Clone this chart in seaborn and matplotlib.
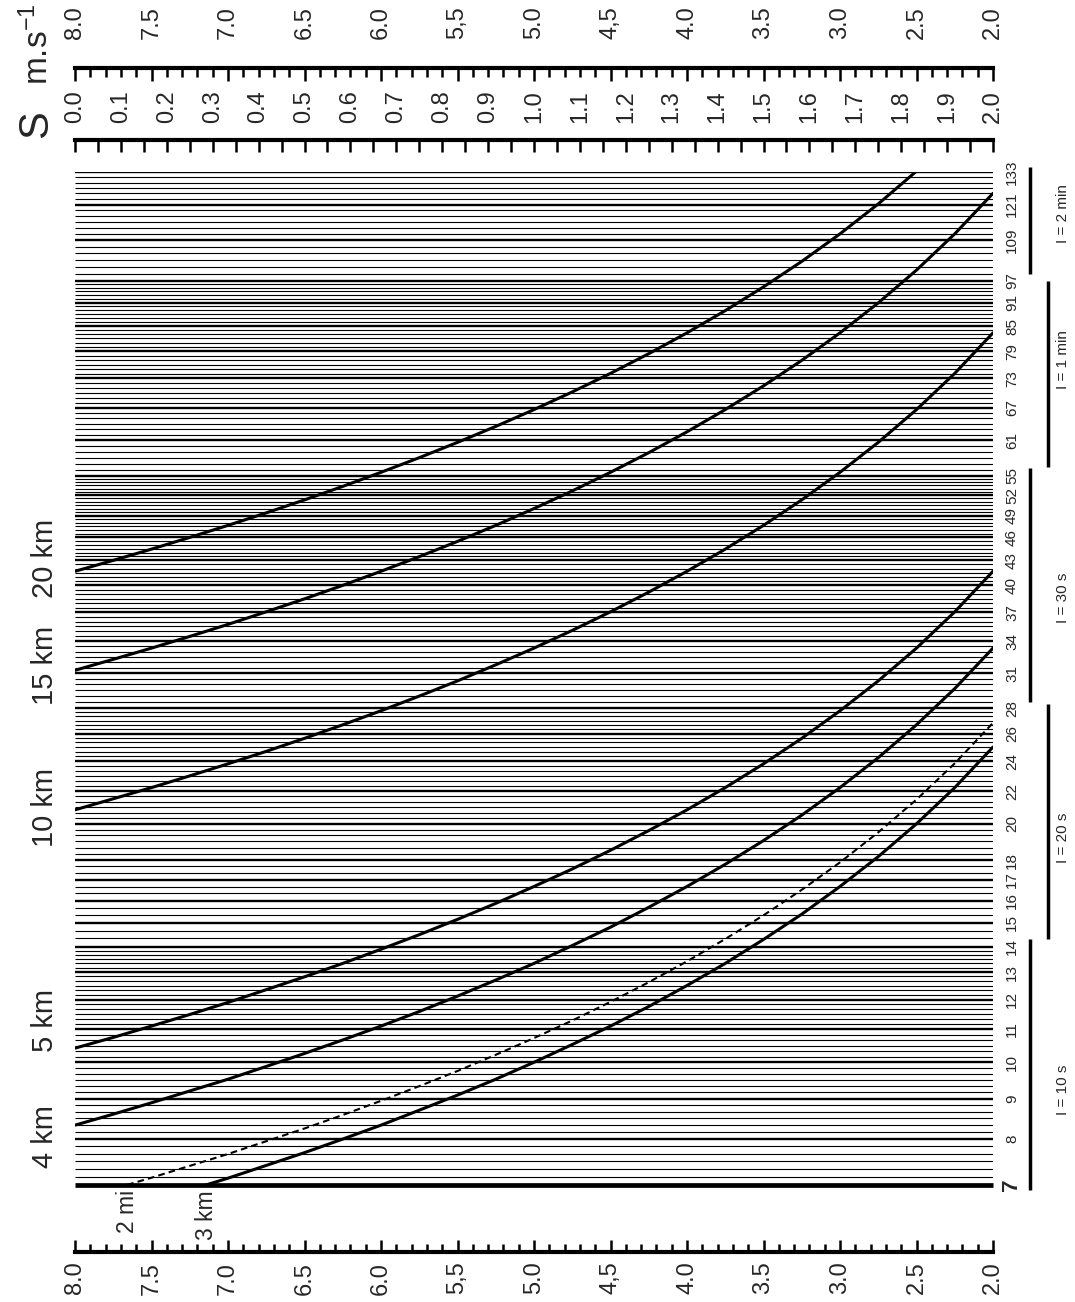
import numpy as np
import pandas as pd
import matplotlib.pyplot as plt
import seaborn as sns

# --- data ---
speeds = [8.0, 7.75, 7.5, 7.25, 7.0, 6.75, 6.5, 6.25, 6.0, 5.75, 5.5, 5.25, 5.0,
          4.75, 4.5, 4.25, 4.0, 3.75, 3.5, 3.25, 3.0, 2.75, 2.5, 2.25, 2.0]

# time (min) where each distance curve crosses the speed values above
t_3km = [6.25, 6.45, 6.67, 6.90, 7.14, 7.41, 7.69, 8.00, 8.33, 8.70, 9.09, 9.52, 10.0,
         10.53, 11.11, 11.76, 12.5, 13.33, 14.29, 15.38, 16.67, 18.18, 20.0, 22.22, 25.0]
t_2mi = [6.71, 6.92, 7.15, 7.40, 7.66, 7.95, 8.25, 8.58, 8.94, 9.33, 9.75, 10.22, 10.73,
         11.29, 11.92, 12.62, 13.41, 14.31, 15.33, 16.51, 17.88, 19.51, 21.46, 23.84, 26.82]
t_4km = [8.33, 8.60, 8.89, 9.20, 9.52, 9.88, 10.26, 10.67, 11.11, 11.59, 12.12, 12.70, 13.33,
         14.04, 14.81, 15.69, 16.67, 17.78, 19.05, 20.51, 22.22, 24.24, 26.67, 29.63, 33.33]
t_5km = [10.42, 10.75, 11.11, 11.49, 11.90, 12.35, 12.82, 13.33, 13.89, 14.49, 15.15, 15.87, 16.67,
         17.54, 18.52, 19.61, 20.83, 22.22, 23.81, 25.64, 27.78, 30.30, 33.33, 37.04, 41.67]
t_10km = [20.83, 21.51, 22.22, 22.99, 23.81, 24.69, 25.64, 26.67, 27.78, 28.99, 30.30, 31.75, 33.33,
          35.09, 37.04, 39.22, 41.67, 44.44, 47.62, 51.28, 55.56, 60.61, 66.67, 74.07, 83.33]
t_15km = [31.25, 32.26, 33.33, 34.48, 35.71, 37.04, 38.46, 40.0, 41.67, 43.48, 45.45, 47.62, 50.0,
          52.63, 55.56, 58.82, 62.5, 66.67, 71.43, 76.92, 83.33, 90.91, 100.0, 111.11, 125.0]
t_20km = [41.67, 43.01, 44.44, 45.98, 47.62, 49.38, 51.28, 53.33, 55.56, 57.97, 60.61, 63.49, 66.67,
          70.18, 74.07, 78.43, 83.33, 88.89, 95.24, 102.56, 111.11, 121.21, 133.33, 148.15, 166.67]

curve_names = ["3 km", "2 mi", "4 km", "5 km", "10 km", "15 km", "20 km"]
curve_times = [t_3km, t_2mi, t_4km, t_5km, t_10km, t_15km, t_20km]

# labels of the distance curves on the left edge (time where the label sits)
left_labels = ["4 km", "5 km", "10 km", "15 km", "20 km"]
left_label_t = [8.05, 11.3, 21.0, 31.7, 43.3]
bottom_labels = ["2 mi", "3 km"]
bottom_label_v = [7.66, 7.14]

# time lines (minutes), labelled ones drawn heavier
time_labels = [7, 8, 9, 10, 11, 12, 13, 14, 15, 16, 17, 18, 20, 22, 24, 26, 28,
               31, 34, 37, 40, 43, 46, 49, 52, 55, 61, 67, 73, 79, 85, 91, 97,
               109, 121, 133]
seg_start = [7, 14, 28, 55, 97]
seg_end = [14, 28, 55, 97, 133]
seg_step_s = [10, 20, 30, 60, 120]
seg_names = ["I = 10 s", "I = 20 s", "I = 30 s", "I = 1 min", "I = 2 min"]
bar_lo = [6.9, 14.3, 28.5, 56.5, 99.0]
bar_hi = [14.3, 28.3, 56.3, 97.0, 135.0]
seg_label_t = [9.23, 19.2, 38.6, 77.0, 118.0]

speed_ticks = [8.0, 7.5, 7.0, 6.5, 6.0, 5.5, 5.0, 4.5, 4.0, 3.5, 3.0, 2.5, 2.0]
speed_ticklabels = ["8.0", "7.5", "7.0", "6.5", "6.0", "5,5", "5.0", "4,5",
                    "4.0", "3.5", "3.0", "2.5", "2.0"]
s_ticks = [0.0, 0.1, 0.2, 0.3, 0.4, 0.5, 0.6, 0.7, 0.8, 0.9, 1.0,
           1.1, 1.2, 1.3, 1.4, 1.5, 1.6, 1.7, 1.8, 1.9, 2.0]

sns.set_theme(style="white")
plt.rcParams['font.family'] = ['Liberation Sans', 'DejaVu Sans']
plt.rcParams['mathtext.default'] = 'regular'

W, H = 1075, 1302
fig = plt.figure(figsize=(W / 100, H / 100), dpi=100)
x0, x1 = 75, 993
left = x0 / W
width = (x1 - x0) / W


def rect(top_px, bottom_px):
    return [left, 1 - bottom_px / H, width, (bottom_px - top_px) / H]


# main nomogram
ax = fig.add_axes(rect(172, 1185))
ax.set_yscale('log')

lines = []
for s, e, st in zip(seg_start, seg_end, seg_step_s):
    lines.extend(np.arange(s, e - 1e-6, st / 60.0))
lines.append(seg_end[-1])
thin = [t for t in lines if not any(abs(t - l) < 1e-6 for l in time_labels)]
ax.hlines(thin, 8, 2, color='black', lw=0.8)
ax.hlines([t for t in time_labels if t != 7], 8, 2, color='black', lw=1.7)
ax.hlines([7], 8, 2, color='black', lw=3.4, clip_on=False)

rows = []
for name, ts in zip(curve_names, curve_times):
    for v, t in zip(speeds, ts):
        rows.append({'curve': name, 'speed': v, 'time': t})
df = pd.DataFrame(rows)

solid = [n for n in curve_names if n != "2 mi"]
sns.lineplot(data=df[df.curve.isin(solid)], x='speed', y='time', units='curve',
             estimator=None, sort=False, color='black', lw=2.2, ax=ax)
sns.lineplot(data=df[df.curve == "2 mi"], x='speed', y='time',
             estimator=None, sort=False, color='black', lw=1.5, ax=ax,
             dashes=False, linestyle=(0, (3.2, 2.0)))
ax.set_xlim(8, 2)
ax.set_ylim(7, 133)
ax.axis('off')

# curve labels
for lab, t in zip(left_labels, left_label_t):
    ax.text(8.196, t, lab, rotation=90, ha='center', va='center', fontsize=21, clip_on=False)
for lab, v in zip(bottom_labels, bottom_label_v):
    ax.text(v, 6.9, lab, rotation=90, ha='center', va='top', fontsize=16.5, clip_on=False)

# time labels on the right
for t in time_labels:
    if t == 7:
        ax.text(1.876, t, "7", rotation=90, ha='center', va='center',
                fontsize=16, fontweight='bold', clip_on=False)
    else:
        ax.text(1.876, t, str(t), rotation=90, ha='center', va='center',
                fontsize=11, clip_on=False)

# interval bars
bar_x = [1.758, 1.641, 1.758, 1.641, 1.758]
for lo, hi, bx, name, lt in zip(bar_lo, bar_hi, bar_x, seg_names, seg_label_t):
    ax.vlines(bx, lo, hi, color='black', lw=2.5, clip_on=False)
    ax.text(1.542, lt, name, rotation=90, ha='center', va='center', fontsize=11, clip_on=False)


def ruler(ax_r, side, lim, major, minor, labels, maj_len, min_len, pad):
    ax_r.set_xlim(*lim)
    ax_r.set_yticks([])
    ax_r.patch.set_visible(False)
    for sp in ax_r.spines.values():
        sp.set_visible(False)
    ax_r.spines[side].set_visible(True)
    ax_r.spines[side].set_linewidth(3.0)
    ax_r.spines[side].set_color('black')
    if side == 'top':
        ax_r.xaxis.tick_top()
    else:
        ax_r.xaxis.tick_bottom()
    ax_r.set_xticks(major)
    ax_r.set_xticklabels(labels, rotation=90, fontsize=17)
    ax_r.set_xticks(minor, minor=True)
    on = dict(top=(side == 'top'), bottom=(side == 'bottom'))
    ax_r.tick_params(axis='x', which='major', direction='in', length=maj_len, width=1.8,
                     color='black', pad=pad, **on)
    ax_r.tick_params(axis='x', which='minor', direction='in', length=min_len, width=1.8,
                     color='black', **on)


minor_v = [8.0 - 0.1 * i for i in range(61)]
ax_top1 = fig.add_axes(rect(68, 90))
ruler(ax_top1, 'top', (8, 2), speed_ticks, minor_v, speed_ticklabels, 9, 6.5, 21)

minor_s = [0.05 * i for i in range(41)]
ax_top2 = fig.add_axes(rect(140, 160))
ruler(ax_top2, 'top', (0, 2), s_ticks, minor_s, [f"{s:.1f}" for s in s_ticks], 8.5, 8.5, 12)

ax_bot = fig.add_axes(rect(1230, 1252))
ruler(ax_bot, 'bottom', (8, 2), speed_ticks, minor_v, speed_ticklabels, 8.5, 5.5, 7)

fig.text(36 / W, 1 - 124 / H, "S", rotation=90, ha='center', va='center', fontsize=30)
fig.text(38 / W, 1 - 44 / H, "m.s$^{-1}$", rotation=90, ha='center', va='center', fontsize=24)

fig.savefig("out.png", dpi=100)
